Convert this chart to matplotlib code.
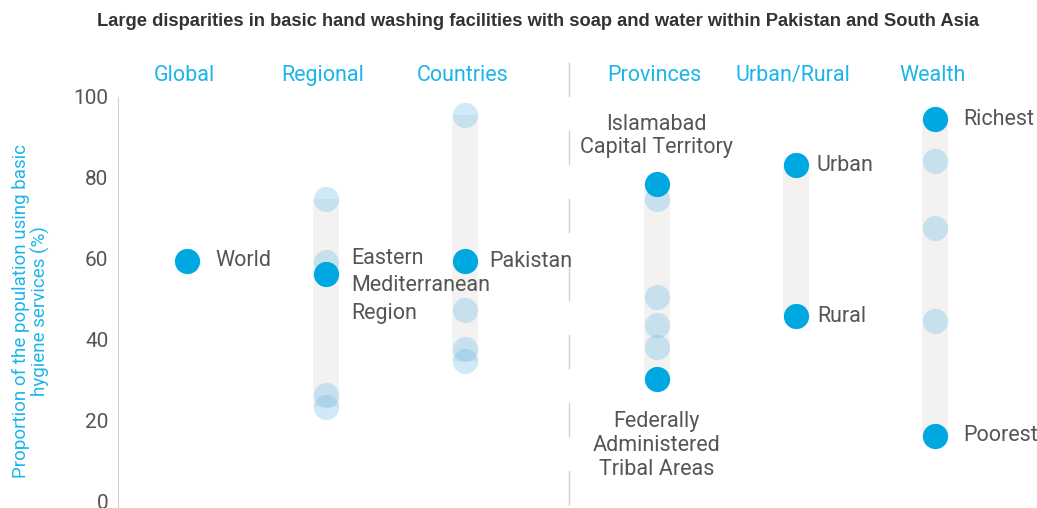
import matplotlib.pyplot as plt

# values (% of population with basic hygiene services)
groups = ["Global", "Regional", "Countries", "Provinces", "Urban/Rural", "Wealth"]
global_vals = [59.5]
regional_vals = [74.7, 59.3, 56.3, 26.3, 23.4]
countries_vals = [95.6, 59.4, 47.3, 37.7, 34.8]
provinces_vals = [78.5, 74.7, 50.5, 43.6, 38.3, 30.3]
urban_rural_vals = [83.2, 45.9]
wealth_vals = [94.5, 84.1, 67.7, 44.6, 16.3]

# which point of each group is highlighted, and its label
highlight_idx = [[0], [2], [1], [0, 5], [0, 1], [0, 4]]
highlight_labels = [
    ["World"],
    ["Eastern\nMediterranean\nRegion"],
    ["Pakistan"],
    ["Islamabad\nCapital Territory", "Federally\nAdministered\nTribal Areas"],
    ["Urban", "Rural"],
    ["Richest", "Poorest"],
]

all_vals = [global_vals, regional_vals, countries_vals,
            provinces_vals, urban_rural_vals, wealth_vals]

title = "Large disparities in basic hand washing facilities with soap and water within Pakistan and South Asia"
ylabel = "Proportion of the population using basic\nhygiene services (%)"

CYAN = "#1cb5ea"
DARK = "#00a8e1"
LIGHT = (100 / 255, 185 / 255, 228 / 255)
GREY_BAR = "#f3f2f1"
TEXT = "#555555"
SPINE = "#d9d0c9"
FONT = "Roboto"

# x positions: unit spacing with a gap after the third group
GAP = 0.38
xpos = [i if i < 3 else i + GAP for i in range(len(groups))]

fig = plt.figure(figsize=(10.37, 5.08), dpi=100)
ax = fig.add_axes([118 / 1037, 0, 1 - 118 / 1037, 411 / 508])
ax.set_xlim(-0.496, 6.115)
ax.set_ylim(-1.5, 100)

for x, vals in zip(xpos, all_vals):
    if len(vals) > 1:
        ax.vlines(x, min(vals), max(vals), color=GREY_BAR, lw=18.5, zorder=1)

for x, vals, hi in zip(xpos, all_vals, highlight_idx):
    lo = [v for i, v in enumerate(vals) if i not in hi]
    ax.scatter([x] * len(lo), lo, s=330, color=LIGHT, alpha=0.3,
               linewidths=0, zorder=2)
    hv = [vals[i] for i in hi]
    ax.scatter([x] * len(hv), hv, s=330, color=DARK, linewidths=0, zorder=3)

# label offsets in pixels, one per highlighted point
offsets = [
    [(28, 0, "left", 1.2)],
    [(25, -12, "left", 1.38)],
    [(24, 0, "left", 1.2)],
    [(0, 48, "center", 1.18), (0, -66, "center", 1.18)],
    [(21, 0, "left", 1.2), (21, 0, "left", 1.2)],
    [(28, 0, "left", 1.2), (28, 0, "left", 1.2)],
]
for x, vals, hi, labs, offs in zip(xpos, all_vals, highlight_idx,
                                    highlight_labels, offsets):
    for i, lab, (dx, dy, ha, ls) in zip(hi, labs, offs):
        ax.annotate(lab, (x, vals[i]), xytext=(dx, dy),
                    textcoords="offset pixels", ha=ha, va="center",
                    fontsize=15.5, color=TEXT, family=FONT,
                    linespacing=ls, annotation_clip=False)

# group headers
for x, g in zip(xpos, groups):
    ax.text(x - 0.02, 105.3, g, ha="center", va="center", fontsize=15.5,
            color=CYAN, family=FONT, clip_on=False)

# dashed separator between aggregate and Pakistan breakdowns
sep_x = 2.75
ax.plot([sep_x, sep_x], [108.6, -1.5], color=SPINE, lw=1,
        linestyle=(0, (25, 24)), clip_on=False, zorder=0)

ax.spines[["top", "right", "bottom"]].set_visible(False)
ax.spines["left"].set_color(SPINE)
ax.set_xticks([])
ax.set_yticks([0, 20, 40, 60, 80, 100])
ax.tick_params(axis="y", length=0, pad=7, labelsize=15, labelcolor=TEXT)
for t in ax.get_yticklabels():
    t.set_family(FONT)

ax.set_ylabel(ylabel, color=CYAN, fontsize=13.5, family=FONT,
              linespacing=1.1, va="center")
ax.yaxis.set_label_coords(-87 / 919, 0.48)

fig.text(538 / 1037, 1 - 21 / 508, title, ha="center", va="center",
         fontsize=13.2, weight="bold", color="#333333",
         family="Liberation Sans")

fig.savefig("out.png", dpi=100)
